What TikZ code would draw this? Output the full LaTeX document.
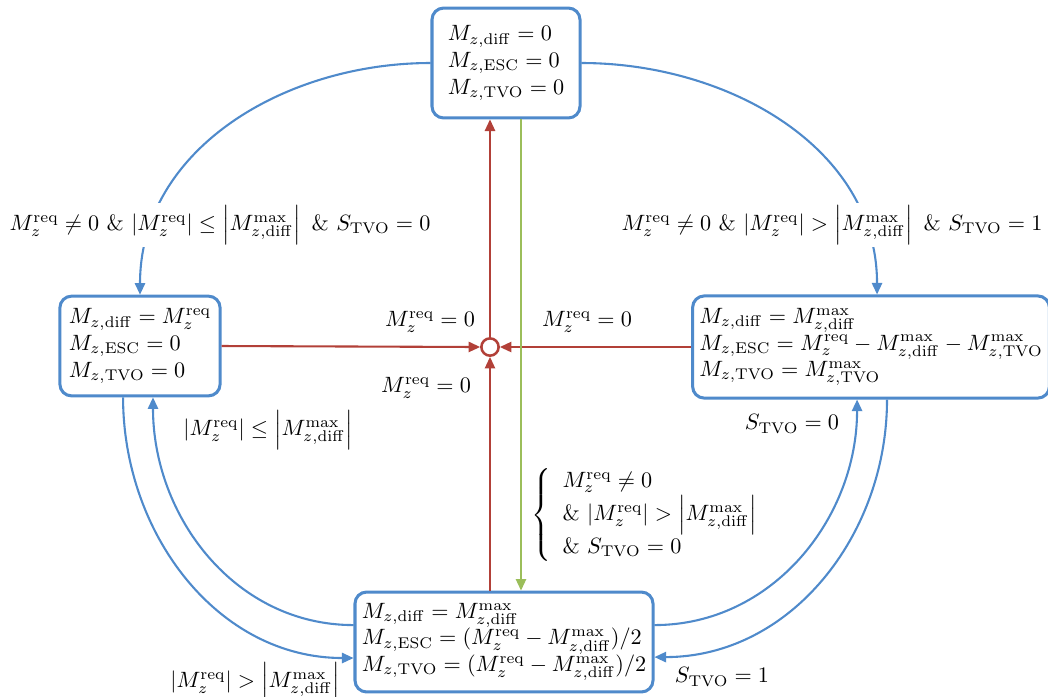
\documentclass[tikz,border=0pt]{standalone}
\usepackage{amsmath}
\usetikzlibrary{arrows.meta}
\definecolor{cblue}{RGB}{79,138,203}
\definecolor{cred}{RGB}{178,64,56}
\definecolor{cgreen}{RGB}{155,190,90}
\begin{document}
\begin{tikzpicture}[x=0.431pt,y=-0.431pt,
  every node/.append style={scale=0.955},
  state/.style={draw=cblue, line width=1.3pt, rounded corners=5pt, align=left, fill=white, inner xsep=3pt, inner ysep=3pt},
  tip/.style={-{Triangle[length=5pt,width=4.4pt]}},
  barc/.style={draw=cblue, line width=0.9pt, tip},
  rarr/.style={draw=cred, line width=0.9pt, tip},
  garr/.style={draw=cgreen, line width=0.9pt, tip},
  lbl/.style={inner sep=1pt},
  wlbl/.style={fill=white, inner sep=1pt}]
\useasboundingbox (0,0) rectangle (1048,696);
% states
\node[state, minimum width=66.8pt, minimum height=49.6pt] (top) at (506,63)
  {$M_{z,\mathrm{diff}}=0$\\ $M_{z,\mathrm{ESC}}=0$\\ $M_{z,\mathrm{TVO}}=0$};
\node[state, minimum width=72.3pt, minimum height=45pt] (lft) at (140,346)
  {$M_{z,\mathrm{diff}}=M_z^{\mathrm{req}}$\\ $M_{z,\mathrm{ESC}}=0$\\ $M_{z,\mathrm{TVO}}=0$};
\node[state, minimum width=157.5pt, minimum height=46.1pt] (rgt) at (871,347)
  {$M_{z,\mathrm{diff}}=M_{z,\mathrm{diff}}^{\max}$\\ $M_{z,\mathrm{ESC}}=M_z^{\mathrm{req}}-M_{z,\mathrm{diff}}^{\max}-M_{z,\mathrm{TVO}}^{\max}$\\ $M_{z,\mathrm{TVO}}=M_{z,\mathrm{TVO}}^{\max}$};
\node[state, minimum width=134.5pt, minimum height=45.1pt] (bot) at (504,642)
  {$M_{z,\mathrm{diff}}=M_{z,\mathrm{diff}}^{\max}$\\ $M_{z,\mathrm{ESC}}=(M_z^{\mathrm{req}}-M_{z,\mathrm{diff}}^{\max})/2$\\ $M_{z,\mathrm{TVO}}=(M_z^{\mathrm{req}}-M_{z,\mathrm{diff}}^{\max})/2$};
% central junction
\node[circle, draw=cred, line width=1.1pt, fill=white, minimum size=7.8pt, inner sep=0pt] (c) at (490,347) {};
\coordinate (gx) at (521,0);
% blue arcs
\draw[barc] (top.west) to[out=180,in=90] (lft.north);
\draw[barc] (top.east) to[out=0,in=90] ([xshift=2.6pt]rgt.north);
\draw[barc] ([xshift=-7.3pt]lft.south) to[out=-90,in=180] ([yshift=-6.9pt]bot.west);
\draw[barc] ([yshift=7.3pt]bot.west) to[out=180,in=-90] ([xshift=5.6pt]lft.south);
\draw[barc] ([yshift=7.3pt]bot.east) to[out=0,in=-90] ([xshift=-6pt]rgt.south);
\draw[barc] ([xshift=6.9pt]rgt.south) to[out=-90,in=0] ([yshift=-6.5pt]bot.east);
% red arrows
\draw[rarr] (lft.east) -- (c.west);
\draw[rarr] (rgt.west) -- (c.east);
\draw[rarr] (c |- bot.north) -- (c.south);
\draw[rarr] (c.north) -- (c |- top.south);
% green arrow
\draw[garr] (top.south -| gx) -- (bot.north -| gx);
% labels
\node[wlbl] (l1) at (220,225) {$M_z^{\mathrm{req}}\neq 0\ \&\ |M_z^{\mathrm{req}}|\le\left|M_{z,\mathrm{diff}}^{\max}\right|\ \&\ S_{\mathrm{TVO}}=0$};
\node[wlbl] (l2) at (832,225) {$M_z^{\mathrm{req}}\neq 0\ \&\ |M_z^{\mathrm{req}}|>\left|M_{z,\mathrm{diff}}^{\max}\right|\ \&\ S_{\mathrm{TVO}}=1$};
\node[lbl] (m1) at (430,322) {$M_z^{\mathrm{req}}=0$};
\node[lbl] (m2) at (587,322) {$M_z^{\mathrm{req}}=0$};
\node[lbl] (m3) at (426,388) {$M_z^{\mathrm{req}}=0$};
\node[lbl] (l3) at (268,430) {$|M_z^{\mathrm{req}}|\le\left|M_{z,\mathrm{diff}}^{\max}\right|$};
\node[lbl] (l4) at (255,682) {$|M_z^{\mathrm{req}}|>\left|M_{z,\mathrm{diff}}^{\max}\right|$};
\node[lbl] (l5) at (792,424) {$S_{\mathrm{TVO}}=0$};
\node[lbl] (l6) at (722,677) {$S_{\mathrm{TVO}}=1$};
\node[lbl] (l7) at (651,515) {$\left\{\begin{array}{l} M_z^{\mathrm{req}}\neq 0\\ \&\ |M_z^{\mathrm{req}}|>\left|M_{z,\mathrm{diff}}^{\max}\right|\\ \&\ S_{\mathrm{TVO}}=0\end{array}\right.$};
\end{tikzpicture}
\end{document}
